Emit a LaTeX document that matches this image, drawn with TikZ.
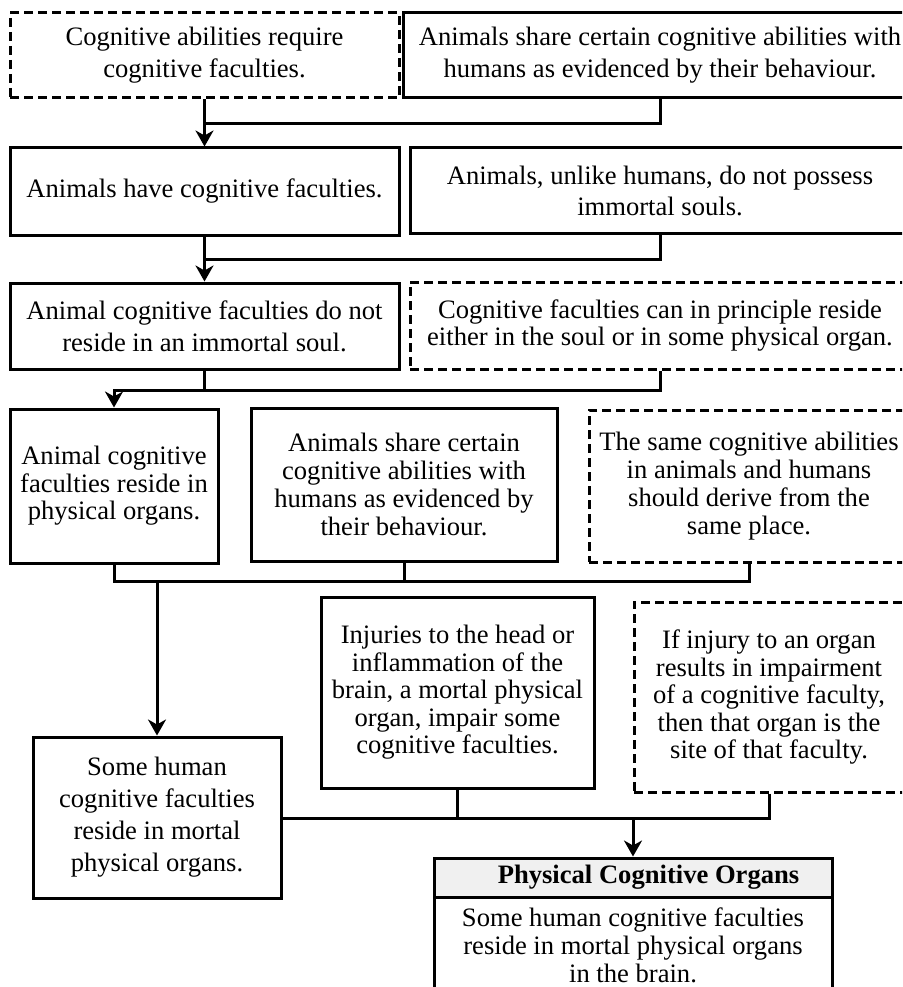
\documentclass[tikz,border=0pt]{standalone}
\usepackage{fontspec}
\setmainfont{Liberation Serif}
\usetikzlibrary{arrows.meta}
\newcommand\fsz[1]{\fontsize{26.6}{#1}\selectfont}
\begin{document}
\begin{tikzpicture}[x=1pt,y=-1pt,
  box/.style={draw, line width=3pt, inner sep=0pt, align=center, font=\fsz{32}},
  dbox/.style={box, dash pattern=on 9pt off 5pt},
  sp27/.style={font=\fsz{27.5}},
  sp28/.style={font=\fsz{28}},
  sp31/.style={font=\fsz{31}},
  conn/.style={line width=3pt},
  arr/.style={conn, -{Stealth[length=16pt,width=18pt,inset=5pt]}}]
\useasboundingbox (0,0) rectangle (902,987);
\clip (0,0) rectangle (902,987);
% row 1
\node[dbox, minimum width=389pt, minimum height=85pt] (b1) at (204.5,55.5)
  {Cognitive abilities require\\cognitive faculties.};
\node[box, minimum width=514pt, minimum height=85pt] (b2) at (660,55.5)
  {Animals share certain cognitive abilities with\\humans as evidenced by their behaviour.};
% row 2
\node[box, minimum width=389pt, minimum height=87pt] (b3) at (204.5,191.5)
  {Animals have cognitive faculties.};
\node[box, sp31, minimum width=500pt, minimum height=85pt] (b4) at (660,190.5)
  {Animals, unlike humans, do not possess\\immortal souls.};
% row 3
\node[box, minimum width=389pt, minimum height=86pt] (b5) at (204.5,326)
  {Animal cognitive faculties do not\\reside in an immortal soul.};
\node[dbox, sp27, minimum width=500pt, minimum height=87pt] (b6) at (660,325.5)
  {Cognitive faculties can in principle reside\\either in the soul or in some physical organ.};
% row 4
\node[box, sp27, minimum width=208pt, minimum height=154pt] (b7) at (114,486)
  {Animal cognitive\\faculties reside in\\physical organs.};
\node[box, sp28, minimum width=306pt, minimum height=153pt] (b8) at (404,484.5)
  {Animals share certain\\cognitive abilities with\\humans as evidenced by\\their behaviour.};
\node[dbox, sp28, minimum width=320pt, minimum height=152pt] (b9) at (749,486)
  {The same cognitive abilities\\in animals and humans\\should derive from the\\same place.};
% row 5
\node[box, minimum width=248pt, minimum height=161pt] (b10) at (157,817.5)
  {Some human\\cognitive faculties\\reside in mortal\\physical organs.};
\node[box, sp27, minimum width=273pt, minimum height=191pt] (b11) at (457.5,692.5)
  {Injuries to the head or\\inflammation of the\\brain, a mortal physical\\organ, impair some\\cognitive faculties.};
\node[dbox, sp27, minimum width=270pt, minimum height=190pt] (b12) at (769,697)
  {If injury to an organ\\results in impairment\\of a cognitive faculty,\\then that organ is the\\site of that faculty.};
% conclusion
\node[box, font=\fsz{28.3}, minimum width=398pt, minimum height=98pt] (b13) at (633,945.5)
  {Some human cognitive faculties\\reside in mortal physical organs\\in the brain.};
\node[box, fill=black!6, minimum width=398pt, minimum height=39pt] (b13h) at (633,877.5)
  {\hspace*{31pt}\textbf{Physical Cognitive Organs}};
% connectors
\coordinate (j1) at (204.5,124);
\coordinate (j2) at (204.5,259);
\coordinate (j3) at (204.5,390);
\coordinate (j4) at (157,581);
\coordinate (j5) at (633,818);
\draw[arr] (b1.south) -- (b3.north);
\draw[conn] (b2.south) |- (j1);
\draw[arr] (b3.south) -- (b5.north);
\draw[conn] (b4.south) |- (j2);
\draw[arr] (b5.south) -- (j3) -| (b7.north);
\draw[conn] (b6.south) |- (j3);
\draw[conn] (b7.south) |- (j4);
\draw[conn] (b8.south) |- (j4);
\draw[conn] (b9.south) |- (j4);
\draw[arr] (j4) -- (b10.north);
\draw[conn] (b10.east |- j5) -- (j5);
\draw[conn] (b11.south) |- (j5);
\draw[conn] (b12.south) |- (j5);
\draw[arr] (j5) -- (b13h.north);
\end{tikzpicture}
\end{document}
